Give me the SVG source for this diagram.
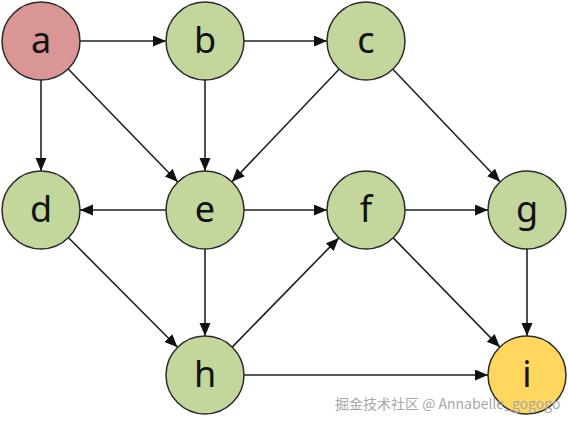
<svg xmlns="http://www.w3.org/2000/svg" width="568" height="422" viewBox="0 0 568 422">
<style>
.n{stroke:#2b2b2b;stroke-width:1.5}
.g{fill:#c3d69b}
.t{font-family:"Noto Sans","Open Sans",sans-serif;font-size:36px;fill:#111;text-anchor:middle}
.e{stroke:#222;stroke-width:1.6;fill:none;marker-end:url(#ar)}
.w{font-family:"Noto Sans CJK SC","Noto Sans",sans-serif;font-size:14px;fill:#a8a8a8}
</style>
<defs>
<marker id="ar" markerUnits="userSpaceOnUse" markerWidth="14" markerHeight="12" refX="13" refY="5.5" orient="auto">
<path d="M0,0 L13,5.5 L0,11 z" fill="#111"/>
</marker>
</defs>
<rect width="568" height="422" fill="#fff"/>
<g id="edges">
<line class="e" x1="80" y1="41" x2="166" y2="41"/>
<line class="e" x1="244" y1="41" x2="327" y2="41"/>
<line class="e" x1="41" y1="80" x2="41" y2="171"/>
<line class="e" x1="68.2" y1="69" x2="177.8" y2="182"/>
<line class="e" x1="205" y1="80" x2="205" y2="171"/>
<line class="e" x1="339.1" y1="69.2" x2="231.9" y2="181.8"/>
<line class="e" x1="392.9" y1="69.2" x2="500.1" y2="181.8"/>
<line class="e" x1="166" y1="210" x2="80" y2="210"/>
<line class="e" x1="244" y1="210" x2="327" y2="210"/>
<line class="e" x1="405" y1="210" x2="488" y2="210"/>
<line class="e" x1="205" y1="249" x2="205" y2="336"/>
<line class="e" x1="527" y1="249" x2="527" y2="336"/>
<line class="e" x1="68.5" y1="237.7" x2="177.5" y2="347.3"/>
<line class="e" x1="232.2" y1="347.1" x2="338.8" y2="237.9"/>
<line class="e" x1="393.2" y1="237.9" x2="499.8" y2="347.1"/>
<line class="e" x1="244" y1="375" x2="488" y2="375"/>
</g>
<g id="a"><circle class="n" cx="41" cy="41" r="39" fill="#d99694"/><text class="t" x="41" y="53">a</text></g>
<g id="b"><circle class="n g" cx="205" cy="41" r="39"/><text class="t" x="205" y="53">b</text></g>
<g id="c"><circle class="n g" cx="366" cy="41" r="39"/><text class="t" x="366" y="53">c</text></g>
<g id="d"><circle class="n g" cx="41" cy="210" r="39"/><text class="t" x="41" y="222">d</text></g>
<g id="e"><circle class="n g" cx="205" cy="210" r="39"/><text class="t" x="205" y="222">e</text></g>
<g id="f"><circle class="n g" cx="366" cy="210" r="39"/><text class="t" x="366" y="222">f</text></g>
<g id="g"><circle class="n g" cx="527" cy="210" r="39"/><text class="t" x="527" y="222">g</text></g>
<g id="h"><circle class="n g" cx="205" cy="375" r="39"/><text class="t" x="205" y="387">h</text></g>
<g id="i"><circle class="n" cx="527" cy="375" r="39" fill="#ffd75e"/><text class="t" x="527" y="387">i</text></g>
<text class="w" x="335" y="409">掘金技术社区 @ Annabelle_gogogo</text>
</svg>
